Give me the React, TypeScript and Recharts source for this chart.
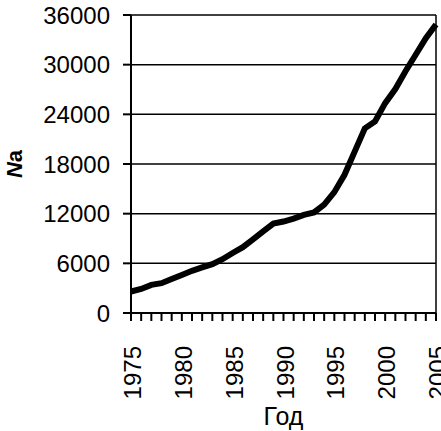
import { LineChart, Line, XAxis, YAxis, CartesianGrid, ReferenceLine } from 'recharts'

const years = [
  1975, 1976, 1977, 1978, 1979, 1980, 1981, 1982, 1983, 1984, 1985, 1986, 1987, 1988, 1989, 1990,
  1991, 1992, 1993, 1994, 1995, 1996, 1997, 1998, 1999, 2000, 2001, 2002, 2003, 2004, 2005,
]
const naValues = [
  2600, 2900, 3400, 3600, 4100, 4600, 5100, 5500, 5900, 6500, 7250, 7950, 8900, 9850, 10800, 11050,
  11400, 11850, 12150, 13100, 14600, 16700, 19500, 22300, 23150, 25350, 27050, 29200, 31200, 33200,
  34850,
]
const yTicks = [0, 6000, 12000, 18000, 24000, 30000, 36000]
const labeledYears = [1975, 1980, 1985, 1990, 1995, 2000, 2005]

const data = years.map((year, i) => ({ year, na: naValues[i] }))

const FONT = '"Liberation Sans", Arial, sans-serif'

function YearTick(props: any) {
  const { x, y, payload } = props
  if (!labeledYears.includes(payload.value)) return null
  return (
    <text
      transform={`translate(${x + 10},${y + 23}) rotate(-90)`}
      textAnchor="end"
      fontSize={24}
      fontFamily={FONT}
      fill="#000"
    >
      {payload.value}
    </text>
  )
}

function NaLabel(props: any) {
  const { viewBox } = props
  const cx = viewBox.x + 22
  const cy = viewBox.y + viewBox.height / 2
  return (
    <text
      transform={`translate(${cx},${cy}) rotate(-90)`}
      textAnchor="middle"
      fontSize={22}
      fontWeight="bold"
      fontFamily={FONT}
      fill="#000"
    >
      <tspan fontStyle="italic">N</tspan>a
    </text>
  )
}

export default function App() {
  return (
    <div style={{ position: 'absolute', left: 0, top: 0, background: '#fff' }}>
      <LineChart width={441} height={431} data={data} margin={{ top: 15, right: 5, left: 0, bottom: 0 }}>
        <CartesianGrid vertical={false} stroke="#000" strokeWidth={1.5} />
        <XAxis
          dataKey="year"
          type="number"
          domain={[1975, 2005]}
          ticks={years}
          interval={0}
          tick={<YearTick />}
          tickSize={8}
          stroke="#000"
          strokeWidth={2}
          height={118}
          label={{ value: 'Год', position: 'insideBottom', offset: 6, fontSize: 25, fontFamily: FONT, fill: '#000' }}
        />
        <YAxis
          domain={[0, 36000]}
          ticks={yTicks}
          interval={0}
          width={131}
          tickSize={8}
          tickMargin={13}
          stroke="#000"
          strokeWidth={2}
          tick={{ fontSize: 24, fontFamily: FONT, fill: '#000' }}
          label={{ content: <NaLabel /> }}
        />
        <ReferenceLine x={2005} stroke="#000" strokeWidth={1.5} />
        <Line
          dataKey="na"
          type="linear"
          stroke="#000"
          strokeWidth={6}
          dot={false}
          isAnimationActive={false}
        />
      </LineChart>
    </div>
  )
}
